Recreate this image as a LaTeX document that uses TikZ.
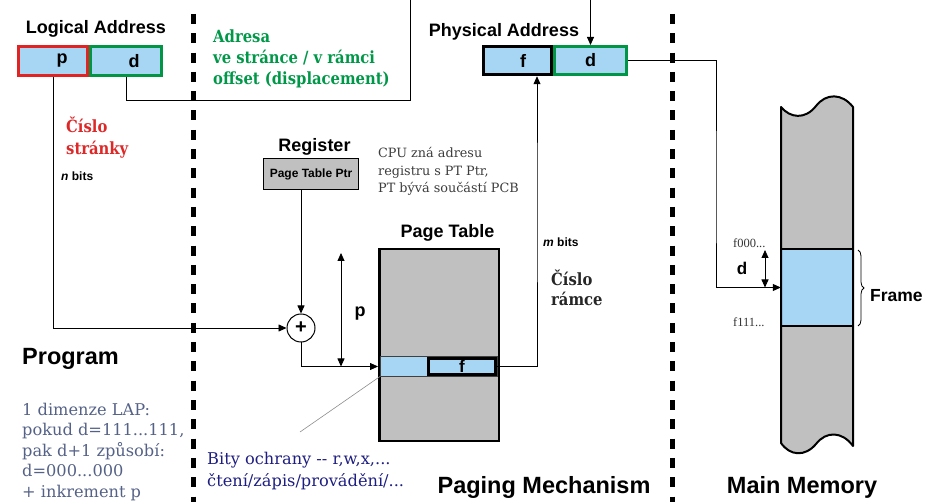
\documentclass[tikz,border=0pt]{standalone}
\usepackage{fontspec}
\setmainfont{Liberation Sans}
\newfontfamily\dvs{DejaVu Serif}
\newfontfamily\dvsb[FakeStretch=0.88]{DejaVu Serif}
\newfontfamily\tms{Liberation Serif}
\usetikzlibrary{arrows.meta,decorations.pathreplacing,calc}
\definecolor{lblue}{RGB}{166,214,243}
\definecolor{mgray}{RGB}{192,192,192}
\definecolor{lred}{RGB}{225,35,35}
\definecolor{lgreen}{RGB}{0,150,70}
\definecolor{gtext}{RGB}{0,152,72}
\definecolor{rtext}{RGB}{222,40,40}
\definecolor{cputext}{RGB}{60,60,60}
\definecolor{slate}{RGB}{85,98,135}
\definecolor{navy}{RGB}{30,30,130}
\newcommand\fsz[1]{\fontsize{#1pt}{#1pt}\selectfont}
\begin{document}
\begin{tikzpicture}[x=1pt,y=-1pt,
  conn/.style={line width=0.8pt, draw=black},
  arr/.style={conn, -{Triangle[length=8pt,width=7pt]}},
  darr/.style={conn, {Triangle[length=8pt,width=7pt]}-{Triangle[length=8pt,width=7pt]}},
  sepline/.style={line width=5pt, dash pattern=on 10pt off 9.3pt},
  hd/.style={font=\bfseries\fsz{18}, inner sep=0pt, anchor=base},
  big/.style={font=\bfseries\fsz{23.5}, inner sep=0pt, anchor=base},
  field/.style={fill=lblue, line width=3pt, inner sep=0pt, font=\bfseries\fsz{18}},
  gtxt/.style={font=\dvsb\bfseries\fsz{16.8}, text=gtext, anchor=base west, inner sep=0pt},
  rtxt/.style={font=\dvsb\bfseries\fsz{16.8}, text=rtext, anchor=base west, inner sep=0pt},
  ktxt/.style={font=\dvsb\bfseries\fsz{16.8}, text=black!85, anchor=base west, inner sep=0pt},
  cpu/.style={font=\dvs\fsz{12.8}, text=cputext, anchor=base west, inner sep=0pt},
  lap/.style={font=\dvs\fsz{16.2}, text=slate, anchor=base west, inner sep=0pt},
  bity/.style={font=\dvs\fsz{16.2}, text=navy, anchor=base west, inner sep=0pt},
  small/.style={font=\bfseries\fsz{12}, anchor=base west, inner sep=0pt},
  addr/.style={font=\tms\fsz{12.5}, text=black!80, anchor=base west, inner sep=0pt}]
\useasboundingbox (0,0) rectangle (942,502);
\clip (0,0) rectangle (942,502);

% separators
\coordinate (s1t) at (193,14); \coordinate (s1b) at (193,502);
\coordinate (s2t) at (672,14); \coordinate (s2b) at (672,502);
\draw[sepline] (s1t) -- (s1b);
\draw[sepline] (s2t) -- (s2b);

% logical address
\node[hd] (lahead) at (96,34) {Logical Address};
\node[field, draw=lred, minimum width=69, minimum height=29] (lp) at (53,61) {\hspace*{18pt}p};
\node[field, draw=lgreen, minimum width=71, minimum height=29] (ld) at (126,61) {\hspace*{16pt}d};

% physical address
\node[hd] (pahead) at (504,37) {Physical Address};
\node[field, draw=lgreen, minimum width=72, minimum height=28] (pd) at (590.5,60.5) {d};
\node[field, draw=black, line width=3.5pt, minimum width=68, minimum height=28] (pf) at (517.5,60.5) {\hspace*{11pt}f};

% green text
\node[gtxt] (g1) at (213,42.5) {Adresa};
\node[gtxt] (g2) at (213,64) {ve stránce / v rámci};
\node[gtxt] (g3) at (213,85) {offset (displacement)};

% red text
\node[rtxt] (r1) at (66,133) {Číslo};
\node[rtxt] (r2) at (66,155) {stránky};
\node[small] (nbits) at (61,181) {\textit{n} bits};

% register
\node[hd] (reghead) at (314.5,152) {Register};
\node[draw, fill=mgray, line width=1.5pt, minimum width=95, minimum height=31, inner sep=0pt, font=\bfseries\fsz{12}] (reg) at (311,174) {Page Table Ptr};
\node[cpu] (c1) at (378,158) {CPU zná adresu};
\node[cpu] (c2) at (378,175.5) {registru s PT Ptr,};
\node[cpu] (c3) at (378,193) {PT bývá součástí PCB};

% plus
\node[draw, circle, line width=1pt, minimum size=28, inner sep=0pt, font=\bfseries\fsz{20}] (plus) at (301,328) {+};

% page table
\node[hd] (pthead) at (447.5,238) {Page Table};
\node[draw, fill=mgray, line width=2.5pt, minimum width=119.5, minimum height=192, inner sep=0pt] (pt) at (439,345) {};
\node[fill=lblue, draw=black!75, line width=1pt, minimum width=117, minimum height=19, inner sep=0pt] (ptrow) at (439,366.5) {};
\node[draw, fill=lblue, line width=3pt, minimum width=67, minimum height=16, inner sep=0pt, font=\bfseries\fsz{17}] (ptf) at (462,366.5) {f};

% p arrow
\coordinate (pa1) at (341,253); \coordinate (pa2) at (341,366.5);
\draw[darr] (pa1) -- (pa2);
\node[font=\bfseries\fsz{18}, anchor=base, inner sep=0pt] (plbl) at (360,317) {p};

% m bits
\node[small] (mbits) at (543,247) {\textit{m} bits};
\node[ktxt] (cr1) at (551,286) {Číslo};
\node[ktxt] (cr2) at (551,306) {rámce};

% connectors
\coordinate (dturn) at (410,100);
\coordinate (topL) at (410,-3);
\coordinate (topR) at (590.5,-3);
\draw[arr] (ld.south) |- (dturn) -- (topL) -- (topR) -- (pd.north);
\draw[arr] (lp.south) |- (plus.west);
\draw[arr] (reg.south -| plus.north) -- (plus.north);
\draw[arr] (plus.south) |- (pt.west |- ptrow.west);
\coordinate (mcol) at (537,200);
\draw[arr] (ptf.east) -| (mcol) -- (mcol |- pf.south);

% main memory
\path[fill=mgray] (781,107) .. controls (790,118) and (805,120) .. (816,106) .. controls (826,93) and (842,93) .. (853,107) -- (853,446) .. controls (842,431) and (826,431) .. (816,444) .. controls (805,457) and (790,456) .. (781,443) -- cycle;
\node[fill=lblue, minimum width=72, minimum height=77, inner sep=0pt] (frame) at (817,287.5) {};
\draw[line width=2pt] (frame.north west) -- (frame.north east);
\draw[line width=2pt] (frame.south west) -- (frame.south east);
\draw[line width=2pt, line join=round] (781,107) .. controls (790,118) and (805,120) .. (816,106) .. controls (826,93) and (842,93) .. (853,107) -- (853,446) .. controls (842,431) and (826,431) .. (816,444) .. controls (805,457) and (790,456) .. (781,443) -- cycle;

\coordinate (memcol) at (716,200);
\draw[arr] (pd.east) -| (memcol) |- (frame.west);
\coordinate (md1) at (765,250); \coordinate (md2) at (765,287.5);
\draw[darr] (md1) -- (md2);
\node[font=\bfseries\fsz{17}, anchor=base, inner sep=0pt] (mdl) at (742,275) {d};
\node[addr] (f0) at (733,248) {f000...};
\node[addr] (f1) at (733,327) {f111...};
\coordinate (brtop) at (858,250); \coordinate (brbot) at (858,326);
\draw[line width=0.8pt, decorate, decoration={brace, amplitude=6pt}] (brtop) -- (brbot);
\node[font=\bfseries\fsz{17.5}, anchor=base west, inner sep=0pt] (frlbl) at (870,302) {Frame};

% titles
\node[big, anchor=base west] (prog) at (22,364) {Program};
\node[big] (pm) at (544,493) {Paging Mechanism};
\node[big] (mm) at (802,493) {Main Memory};

% notes
\node[lap] (l1) at (22,415) {1 dimenze LAP:};
\node[lap] (l2) at (22,435.5) {pokud d=111...111,};
\node[lap] (l3) at (22,456) {pak d+1 způsobí:};
\node[lap] (l4) at (22,476.5) {d=000...000};
\node[lap] (l5) at (22,497) {+ inkrement p};
\node[bity] (b1) at (207,464) {Bity ochrany -- r,w,x,...};
\node[bity] (b2) at (207,486.5) {čtení/zápis/provádění/...};
\coordinate (bitsl) at (300,432);
\draw[black!45, line width=0.6pt] (bitsl) -- (ptrow.south west);
\end{tikzpicture}
\end{document}
